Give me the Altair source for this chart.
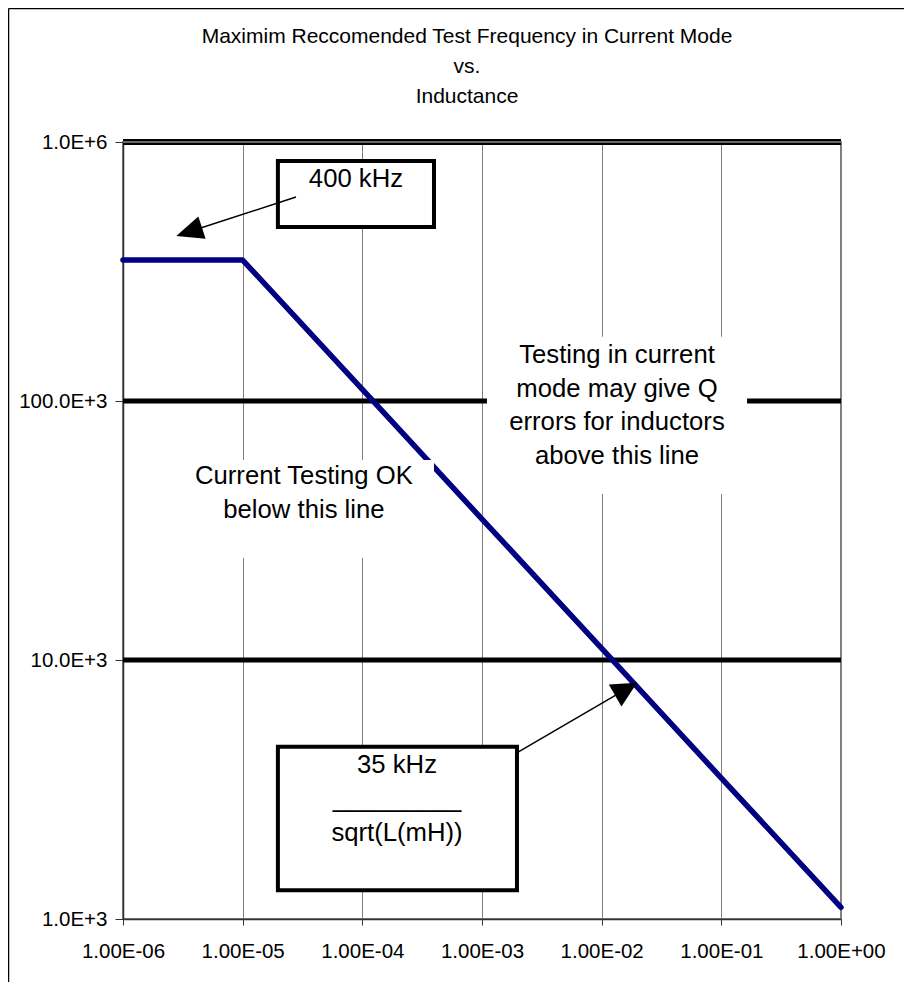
import altair as alt
import pandas as pd

# ---- data ----
inductance_H = [1e-6, 1e-5, 1e-4, 1e-3, 1e-2, 1e-1, 1.0]
max_freq_Hz = [350000, 350000, 111000, 35000, 11100, 3500, 1110]

x_ticks = [1e-6, 1e-5, 1e-4, 1e-3, 1e-2, 1e-1, 1.0]
x_tick_labels = ["1.00E-06", "1.00E-05", "1.00E-04", "1.00E-03",
                 "1.00E-02", "1.00E-01", "1.00E+00"]
y_ticks = [1e3, 1e4, 1e5, 1e6]
y_tick_labels = ["1.0E+3", "10.0E+3", "100.0E+3", "1.0E+6"]
ref_levels = [1e4, 1e5]
top_level = [1e6]

title_lines = ["Maximim Reccomended Test Frequency in Current Mode", "vs.", "Inductance"]

note_high_lines = ["Testing in current", "mode may give Q", "errors for inductors", "above this line"]
note_high_anchor = [1.343e-2, 1.402e5]
note_high_bg = [1.10e-3, 0.164, 4.37e4, 1.77e5]

note_low_lines = ["Current Testing OK", "below this line"]
note_low_anchor = [3.25e-5, 4.78e4]
note_low_bg = [2.67e-6, 3.97e-4, 2.48e4, 5.92e4]

box400_lines = ["400 kHz"]
box400_anchor = [8.85e-5, 6.70e5]
box400_rect = [1.97e-5, 3.97e-4, 4.70e5, 8.45e5]
arrow400 = [2.79e-5, 6.13e5, 3.57e-6, 4.50e5]

box35_lines = ["35 kHz", "_________", "sqrt(L(mH))"]
box35_anchor = [1.95e-4, 3.66e3]
box35_rect = [1.97e-5, 1.96e-3, 1.29e3, 4.62e3]
arrow35 = [2.0e-3, 4.41e3, 1.60e-2, 7.72e3]

FONT = "Liberation Sans"
TXT = 25.7

# ---- scales / axes ----
x0 = -round(__import__("math").log10(x_ticks[0]))
y0 = -round(__import__("math").log10(y_ticks[0]))
x_expr = "[" + ",".join("'%s'" % s for s in x_tick_labels) + "][round(log(datum.value)/LN10)+%d]" % x0
y_expr = "[" + ",".join("'%s'" % s for s in y_tick_labels) + "][round(log(datum.value)/LN10)+%d]" % y0

xscale = alt.Scale(type="log", domain=[x_ticks[0], x_ticks[-1]], nice=False)
yscale = alt.Scale(type="log", domain=[y_ticks[0], y_ticks[-1]], nice=False)
xaxis = alt.Axis(values=x_ticks, labelExpr=x_expr, title=None, grid=True,
                 gridColor="#808080", gridWidth=1, tickSize=6, tickColor="#333333",
                 domainColor="#333333", domainWidth=1.5, labelPadding=16,
                 labelFontSize=20.5, labelFont=FONT, labelColor="black",
                 labelFlush=False, labelOverlap=False)
yaxis = alt.Axis(values=y_ticks, labelExpr=y_expr, title=None, grid=False,
                 tickSize=8, tickColor="#333333", domainColor="#333333",
                 domainWidth=1.5, labelPadding=8, labelFontSize=20.5,
                 labelFont=FONT, labelColor="black", labelFlush=False,
                 labelOverlap=False)

X = lambda f="L": alt.X(f"{f}:Q", scale=xscale, axis=xaxis)
Y = lambda f="f": alt.Y(f"{f}:Q", scale=yscale, axis=yaxis)

# ---- tables ----
curve = pd.DataFrame({"L": inductance_H, "f": max_freq_Hz})
levels = pd.DataFrame({"f": ref_levels})
toplev = pd.DataFrame({"f": top_level})

def rect_df(r):
    return pd.DataFrame({"L": [r[0]], "L2": [r[1]], "f": [r[2]], "f2": [r[3]]})

def seg_df(s):
    return pd.DataFrame({"L": [s[0]], "f": [s[1]], "L2": [s[2]], "f2": [s[3]]})

def text_df(anchor, lines):
    return pd.DataFrame({"L": [anchor[0]], "f": [anchor[1]], "t": ["\n".join(lines)]})

def head_df(s):
    return pd.DataFrame({"L": [s[2]], "f": [s[3]]})

# ---- layers ----
grid_lines = alt.Chart(levels).mark_rule(color="black", strokeWidth=5).encode(y=Y())
top_black = alt.Chart(toplev).mark_rule(color="black", strokeWidth=6).encode(y=Y())
top_gray = alt.Chart(toplev).mark_rule(color="#8a8a8a", strokeWidth=1.6).encode(y=Y())

line = alt.Chart(curve).mark_line(color="#000080", strokeWidth=5.5,
                                  strokeCap="round", strokeJoin="round").encode(x=X(), y=Y())

def white_bg(r):
    return alt.Chart(rect_df(r)).mark_rect(fill="white", stroke=None).encode(
        x=X(), x2="L2", y=Y(), y2="f2")

def framed_box(r):
    return alt.Chart(rect_df(r)).mark_rect(fill="white", stroke="black", strokeWidth=4).encode(
        x=X(), x2="L2", y=Y(), y2="f2")

def arrow_line(s):
    return alt.Chart(seg_df(s)).mark_rule(color="black", strokeWidth=1.5).encode(
        x=X(), x2="L2", y=Y(), y2="f2")

def arrow_head(s, angle, size, path):
    return alt.Chart(head_df(s)).mark_point(shape=path, filled=True, size=size, angle=angle,
                                            color="black", opacity=1, strokeWidth=0).encode(
        x=X(), y=Y())

def note(anchor, lines, lh):
    return alt.Chart(text_df(anchor, lines)).mark_text(
        font=FONT, fontSize=TXT, color="black", align="center", baseline="alphabetic",
        lineBreak="\n", lineHeight=lh).encode(x=X(), y=Y(), text="t:N")

one = pd.DataFrame({"t": ["\n".join(title_lines)]})
title = alt.Chart(one).mark_text(font=FONT, fontSize=21, color="black", align="center",
                                 baseline="alphabetic", lineBreak="\n", lineHeight=29.7).encode(
    x=alt.value(344), y=alt.value(-98.7), text="t:N")

frame_top = alt.Chart(one).mark_rule(color="black", strokeWidth=1.5).encode(
    x=alt.value(-114.5), x2=alt.value(781), y=alt.value(-133.5), y2=alt.value(-133.5))
frame_left = alt.Chart(one).mark_rule(color="black", strokeWidth=1.5).encode(
    x=alt.value(-114.5), x2=alt.value(-114.5), y=alt.value(-133.5), y2=alt.value(840))

chart = alt.layer(
    grid_lines, top_black, top_gray, line,
    white_bg(note_high_bg), white_bg(note_low_bg),
    framed_box(box400_rect), arrow_line(arrow400),
    arrow_line(arrow35), framed_box(box35_rect),
    arrow_head(arrow400, 162, 729, "M1,0L-1,-0.87L-1,0.87Z"),
    arrow_head(arrow35, 330, 640, "M1,0L-1,-1L-1,1Z"),
    note(note_high_anchor, note_high_lines, 33.7),
    note(note_low_anchor, note_low_lines, 34),
    note(box400_anchor, box400_lines, 34),
    note(box35_anchor, box35_lines, 34),
    title, frame_top, frame_left,
).properties(
    width=718, height=777,
    autosize=alt.AutoSizeParams(type="none"),
    padding={"left": 115, "top": 134, "right": 63, "bottom": 64},
    background="white",
).configure_view(stroke="#808080", strokeWidth=2)

chart.save("out.html", embed_options={"renderer": "svg", "actions": False})
